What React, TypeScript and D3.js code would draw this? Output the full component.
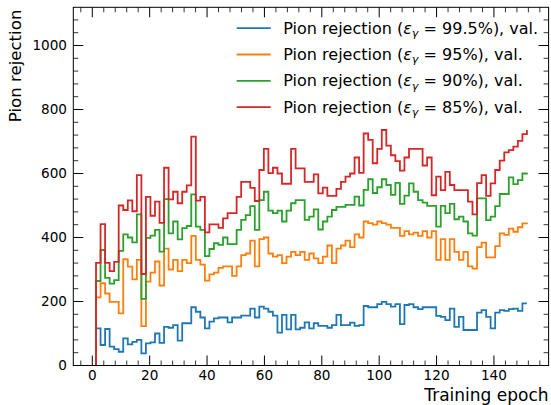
import React from 'react';
import * as d3 from 'd3';

const W = 551;
const H = 405;

// Validation points: evenly spaced in epoch
const epochStart = 1.3;
const epochStep = 1.581;

const rej995 = [116,64,114,59,51,43,85,66,74,80,
  38,69,72,100,71,121,118,126,78,132,
  132,182,168,150,116,137,147,150,150,135,
  150,150,156,156,178,150,184,178,168,156,
  103,158,113,158,113,118,135,116,132,124,
  124,118,126,158,126,126,134,124,126,186,
  182,182,192,199,192,184,192,129,189,192,
  182,176,182,182,182,155,152,142,178,121,
  152,111,111,111,165,173,152,116,165,173,
  171,176,178,171,194,194];

const rej95 = [213,257,225,199,199,163,332,309,269,330,
  123,262,290,325,250,365,300,330,295,330,
  320,405,330,315,265,285,290,305,310,310,
  280,310,345,350,390,310,395,400,350,340,
  345,320,340,355,345,355,330,350,335,320,
  340,375,320,365,375,390,370,410,400,450,
  445,440,450,445,440,430,430,405,420,410,
  415,405,420,400,420,330,395,330,395,355,
  330,355,310,303,370,384,338,338,373,413,
  408,428,418,432,444,446];

const rej90 = [264,361,274,256,267,358,410,400,385,472,
  208,399,406,424,356,520,413,450,394,429,
  436,535,434,424,342,364,382,377,400,379,
  379,424,455,470,498,424,517,543,484,476,
  484,450,484,507,517,517,455,465,488,425,
  450,465,486,496,496,502,502,528,500,549,
  582,539,557,582,564,533,571,505,531,569,
  543,517,509,499,499,434,499,476,505,457,
  465,450,413,406,522,522,454,465,498,536,
  536,588,567,579,600,602];

const rej85 = [321,442,321,295,324,500,486,516,482,595,
  286,527,468,512,446,618,519,543,507,543,
  563,715,515,527,416,441,441,430,460,476,
  476,527,574,574,555,514,611,677,601,618,
  600,568,568,677,616,616,574,574,597,538,
  556,530,530,552,574,590,600,650,602,725,
  705,632,677,736,687,657,639,609,650,677,
  677,677,625,650,532,590,548,605,564,548,
  548,548,512,472,570,595,530,569,611,640,
  666,673,684,702,723,736];

const effLabels = ['99.5%', '95%', '90%', '85%'];
const seriesColors = ['#1f77b4', '#ff7f0e', '#2ca02c', '#d62728'];
const xTicks = [0, 20, 40, 60, 80, 100, 120, 140];
const yTicks = [0, 200, 400, 600, 800, 1000];

const FONT = 'DejaVu Sans';

export default function App() {
  const L = 73.3, R = 548.6, T = 7.3, B = 365.5;
  const x = d3.scaleLinear().domain([-6.62, 159.05]).range([L, R]);
  const y = d3.scaleLinear().domain([0, 1119.4]).range([B, T]);

  const allSeries = [rej995, rej95, rej90, rej85];
  const line = d3.line<[number, number]>()
    .x(d => x(d[0]))
    .y(d => y(d[1]))
    .curve(d3.curveStepAfter);

  const paths = allSeries.map(vals => {
    const pts: [number, number][] = [[epochStart, 0]];
    vals.forEach((v, i) => pts.push([epochStart + i * epochStep, v]));
    return line(pts) as string;
  });

  const xMinor = d3.range(-4, 160, 4).filter(v => v % 20 !== 0 && x(v) > L && x(v) < R);
  const yMinor = d3.range(40, 1120, 40).filter(v => v % 200 !== 0 && y(v) > T);

  const majLen = 10, minLen = 5;

  return (
    <svg width={W} height={H} style={{ position: 'absolute', left: 0, top: 0, background: '#fff' }}>
      <rect x={0} y={0} width={W} height={H} fill="#fff" />
      {paths.map((p, i) => (
        <path key={i} d={p} fill="none" stroke={seriesColors[i]} strokeWidth={1.8} strokeLinejoin="miter" />
      ))}
      {/* spines */}
      <rect x={L} y={T} width={R - L} height={B - T} fill="none" stroke="#000" strokeWidth={1} />
      {/* x ticks */}
      {xTicks.map(t => (
        <g key={'xt' + t}>
          <line x1={x(t)} x2={x(t)} y1={B} y2={B - majLen} stroke="#000" strokeWidth={1} />
          <line x1={x(t)} x2={x(t)} y1={T} y2={T + majLen} stroke="#000" strokeWidth={1} />
          <text x={x(t)} y={380} fontSize={13.6} fontFamily={FONT} textAnchor="middle">{t}</text>
        </g>
      ))}
      {xMinor.map(t => (
        <g key={'xm' + t}>
          <line x1={x(t)} x2={x(t)} y1={B} y2={B - minLen} stroke="#000" strokeWidth={0.8} />
          <line x1={x(t)} x2={x(t)} y1={T} y2={T + minLen} stroke="#000" strokeWidth={0.8} />
        </g>
      ))}
      {/* y ticks */}
      {yTicks.map(t => (
        <g key={'yt' + t}>
          <line x1={L} x2={L + majLen} y1={y(t)} y2={y(t)} stroke="#000" strokeWidth={1} />
          <line x1={R} x2={R - majLen} y1={y(t)} y2={y(t)} stroke="#000" strokeWidth={1} />
          <text x={67} y={y(t)} dy="0.36em" fontSize={13.6} fontFamily={FONT} textAnchor="end">{t}</text>
        </g>
      ))}
      {yMinor.map(t => (
        <g key={'ym' + t}>
          <line x1={L} x2={L + minLen} y1={y(t)} y2={y(t)} stroke="#000" strokeWidth={0.8} />
          <line x1={R} x2={R - minLen} y1={y(t)} y2={y(t)} stroke="#000" strokeWidth={0.8} />
        </g>
      ))}
      {/* axis labels */}
      <text x={R} y={400.5} fontSize={17} fontFamily={FONT} textAnchor="end">Training epoch</text>
      <text transform={`translate(21, 9.6) rotate(-90)`} fontSize={16.6} fontFamily={FONT} textAnchor="end">Pion rejection</text>
      {/* legend */}
      {effLabels.map((e, i) => {
        const cy = 28.2 + i * 26.3;
        return (
          <g key={'lg' + i}>
            <line x1={236.7} x2={270.7} y1={cy} y2={cy} stroke={seriesColors[i]} strokeWidth={1.8} />
            <text x={283.3} y={cy} dy="0.34em" fontSize={16} fontFamily={FONT}>
              Pion rejection (
              <tspan fontStyle="italic">ε</tspan>
              <tspan fontStyle="italic" fontSize={11.2} dy={3.5}>γ</tspan>
              <tspan dy={-3.5}>{' = ' + e + '), val.'}</tspan>
            </text>
          </g>
        );
      })}
    </svg>
  );
}
